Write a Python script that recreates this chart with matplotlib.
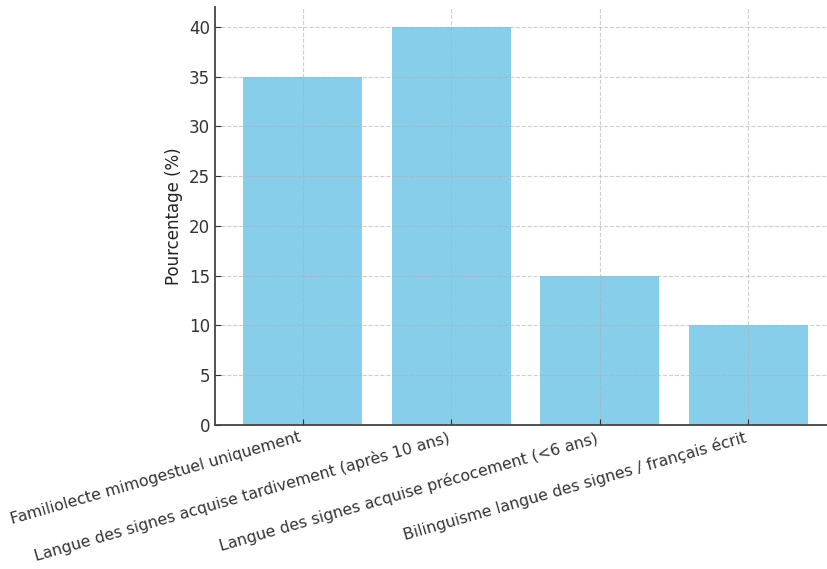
import matplotlib
matplotlib.use("Agg")
import matplotlib.pyplot as plt

categories = [
    "Familiolecte mimogestuel uniquement",
    "Langue des signes acquise tardivement (après 10 ans)",
    "Langue des signes acquise précocement (<6 ans)",
    "Bilinguisme langue des signes / français écrit",
]
percentages = [35, 40, 15, 10]

plt.rcParams.update({
    "font.family": "DejaVu Sans",
    "font.size": 12,
    "axes.edgecolor": "#444444",
    "xtick.color": "#333333",
    "ytick.color": "#333333",
    "text.color": "#222222",
    "axes.labelcolor": "#222222",
})

fig = plt.figure(figsize=(8.28, 5.69), dpi=100)
# axes run slightly past the right edge, as in the cropped reference
ax = fig.add_axes([215 / 828, 1 - 425 / 569, 621 / 828, 418 / 569])

x = range(len(categories))
ax.bar(x, percentages, width=0.8, color="skyblue")

ax.set_xticks(list(x))
ax.set_xticklabels(categories, rotation=16, ha="right", fontsize=11.3)
ax.set_xlim(-0.59, 3.59)
ax.set_ylim(0, 42)
ax.set_ylabel("Pourcentage (%)")

ax.grid(True, linestyle="--", alpha=0.6)
ax.tick_params(direction="in", length=4)
ax.spines["top"].set_visible(False)
ax.spines["right"].set_visible(False)
ax.spines["left"].set_linewidth(1.3)
ax.spines["bottom"].set_linewidth(1.3)

fig.savefig("out.png", dpi=100)
